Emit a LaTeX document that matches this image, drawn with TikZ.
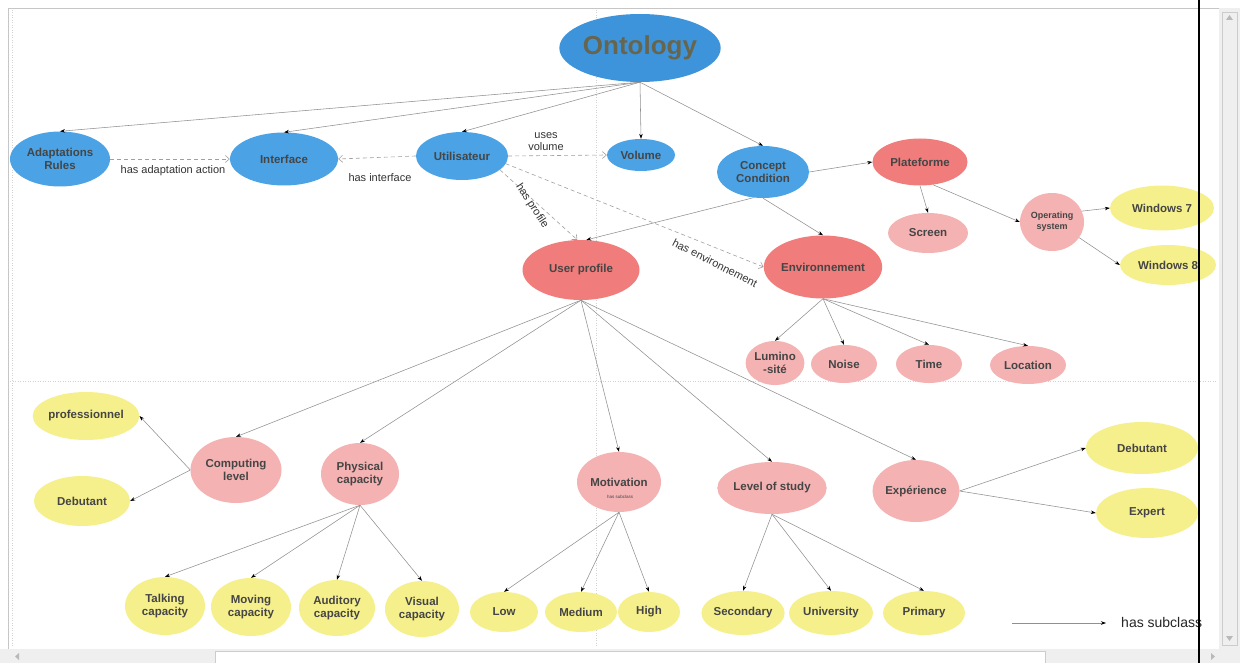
\documentclass[tikz,border=0pt]{standalone}
\usepackage{fontspec}
\setmainfont{Liberation Sans}
\usetikzlibrary{shapes.geometric,arrows.meta}

\definecolor{cblue}{HTML}{4BA3E6}
\definecolor{cblueD}{HTML}{3D94DA}
\definecolor{cred}{HTML}{F07C7C}
\definecolor{cpink}{HTML}{F4B2B2}
\definecolor{cyel}{HTML}{F6F08C}
\definecolor{txt}{HTML}{454545}
\definecolor{edge}{HTML}{909090}
\definecolor{relc}{HTML}{A0A0A0}
\definecolor{panel}{HTML}{EFEFEF}

\tikzset{
  ell/.style={ellipse, inner sep=0pt, align=center, text=txt,
              font=\fontsize{11.5}{13}\selectfont\bfseries},
  clsB/.style={ell, fill=cblue},
  clsR/.style={ell, fill=cred},
  clsP/.style={ell, fill=cpink},
  clsY/.style={ell, fill=cyel},
  sz/.style 2 args={minimum width=#1, minimum height=#2},
  sub/.style={draw=edge, line width=0.55pt,
              -{Stealth[length=5pt,width=3.5pt,black]}},
  rel/.style={draw=relc, line width=0.6pt, dash pattern=on 4pt off 3pt,
              -{Straight Barb[length=4pt,width=7pt]}},
  lbl/.style={text=black!80, font=\fontsize{11}{12.5}\selectfont, inner sep=1pt},
  grid/.style={draw=gray!35, line width=0.5pt, dotted}
}

\begin{document}
\begin{tikzpicture}[x=1pt, y=-1pt]
\useasboundingbox (0,0) rectangle (1241,663);
\fill[white] (0,0) rectangle (1241,663);

% window frame, grid guides and scrollbars
\draw[gray!45, line width=0.6pt] (8,8) rectangle (1219,649);
\draw[grid] (10,381) -- (1217,381);
\draw[grid] (596,10) -- (596,647);
\draw[grid] (12,10) -- (12,647);
\fill[panel] (1219,8) rectangle (1240,663);
\draw[gray!40] (1222,12) rectangle (1237,645);
\fill[gray!55] (1226,20) -- (1233,20) -- (1229.5,15) -- cycle;
\fill[gray!55] (1226,636) -- (1233,636) -- (1229.5,641) -- cycle;
\fill[panel] (0,649) rectangle (1219,663);
\draw[gray!40, fill=white] (215,651) rectangle (1045,663);
\fill[gray!55] (19,653) -- (19,660) -- (15,656.5) -- cycle;
\fill[gray!55] (1211,653) -- (1211,660) -- (1215,656.5) -- cycle;

% classes
\node[ell, fill=cblueD, sz={146pt}{68pt}, text=black!60!olive!60!gray,
      font=\fontsize{26}{28}\selectfont\bfseries] (onto) at (640,48) {Ontology};

\node[clsB, sz={100pt}{55pt}] (adapt) at (60,159) {Adaptations\\Rules};
\node[clsB, sz={108pt}{53pt}] (intf) at (284,159) {Interface};
\node[clsB, sz={92pt}{48pt}] (ut) at (462,156) {Utilisateur};
\node[clsB, sz={68pt}{32pt}] (vol) at (641,155) {Volume};
\node[clsB, sz={92pt}{52pt}] (cc) at (763,172) {Concept\\Condition};

\node[clsR, sz={95pt}{47pt}] (plat) at (920,162) {Plateforme};
\node[clsP, sz={80pt}{40pt}] (scr) at (928,233) {Screen};
\node[clsP, sz={64pt}{58pt}, font=\fontsize{9}{11}\selectfont\bfseries] (os) at (1052,222) {Operating\\system};
\node[clsY, sz={104pt}{45pt}] (w7) at (1162,208) {Windows 7};
\node[clsY, sz={96pt}{40pt}] (w8) at (1168,265) {Windows 8};

\node[clsR, sz={117pt}{60pt}] (up) at (581,270) {User profile};
\node[clsR, sz={114pt}{63pt}] (env) at (823,267) {Environnement};

\node[clsP, sz={58pt}{44pt}] (lum) at (775,363) {Lumino\\-sité};
\node[clsP, sz={66pt}{38pt}] (noise) at (844,364) {Noise};
\node[clsP, sz={66pt}{38pt}] (time) at (929,364) {Time};
\node[clsP, sz={76pt}{38pt}] (loc) at (1028,365) {Location};

\node[clsY, sz={104pt}{48pt}] (prof) at (86,416) {professionnel};
\node[clsY, sz={96pt}{50pt}] (debL) at (82,501) {Debutant};
\node[clsP, sz={91pt}{66pt}] (comp) at (236,470) {Computing\\level};
\node[clsP, sz={78pt}{62pt}] (phys) at (360,474) {Physical\\capacity};
\node[clsP, sz={84pt}{60pt}] (mot) at (619,482) {Motivation};
\node[text=txt, font=\fontsize{4.5}{5}\selectfont] (motsub) at (620,497) {has subclass};
\node[clsP, sz={100pt}{52pt}] (los) at (772,488) {Level of study};
\node[clsP, sz={86pt}{62pt}] (exp) at (916,491) {Expérience};
\node[clsY, sz={112pt}{52pt}] (debR) at (1142,448) {Debutant};
\node[clsY, sz={102pt}{50pt}] (expert) at (1147,513) {Expert};

\node[clsY, sz={80pt}{58pt}] (talk) at (165,606) {Talking\\capacity};
\node[clsY, sz={80pt}{58pt}] (move) at (251,607) {Moving\\capacity};
\node[clsY, sz={76pt}{56pt}] (aud) at (337,608) {Auditory\\capacity};
\node[clsY, sz={74pt}{56pt}] (vis) at (422,609) {Visual\\capacity};
\node[clsY, sz={68pt}{40pt}] (low) at (504,612) {Low};
\node[clsY, sz={72pt}{40pt}] (med) at (581,612) {Medium};
\node[clsY, sz={62pt}{40pt}] (high) at (649,612) {High};
\node[clsY, sz={74pt}{44pt}] (sec) at (743,613) {Secondary};
\node[clsY, sz={84pt}{44pt}] (uni) at (831,613) {University};
\node[clsY, sz={82pt}{44pt}] (prim) at (924,613) {Primary};

% subclass links
\draw[sub] (onto.south) -- (adapt.north);
\draw[sub] (onto.south) -- (intf.north);
\draw[sub] (onto.south) -- (ut.north);
\draw[sub] (onto.south) -- (vol.north);
\draw[sub] (onto.south) -- (cc.north);

\draw[sub] (cc.east) -- (plat.west);
\draw[sub] (cc.south) -- (env.north);
\draw[sub] (cc.250) -- (up.80);
\draw[sub] (plat.south) -- (scr.north);
\draw[sub] (plat.-60) -- (os.west);
\draw[sub] (os.20) -- (w7.west);
\draw[sub] (os.-30) -- (w8.west);

\draw[sub] (env.south) -- (lum.north);
\draw[sub] (env.south) -- (noise.north);
\draw[sub] (env.south) -- (time.north);
\draw[sub] (env.south) -- (loc.north);

\draw[sub] (up.south) -- (comp.north);
\draw[sub] (up.south) -- (phys.north);
\draw[sub] (up.south) -- (mot.north);
\draw[sub] (up.south) -- (los.north);
\draw[sub] (up.south) -- (exp.north);

\draw[sub] (comp.west) -- (prof.east);
\draw[sub] (comp.west) -- (debL.east);
\draw[sub] (phys.south) -- (talk.north);
\draw[sub] (phys.south) -- (move.north);
\draw[sub] (phys.south) -- (aud.north);
\draw[sub] (phys.south) -- (vis.north);
\draw[sub] (mot.south) -- (low.north);
\draw[sub] (mot.south) -- (med.north);
\draw[sub] (mot.south) -- (high.north);
\draw[sub] (los.south) -- (sec.north);
\draw[sub] (los.south) -- (uni.north);
\draw[sub] (los.south) -- (prim.north);
\draw[sub] (exp.east) -- (debR.west);
\draw[sub] (exp.east) -- (expert.west);

% object properties
\draw[rel] (adapt.east) -- (intf.west);
\draw[rel] (ut.west) -- (intf.east);
\draw[rel] (ut.east) -- (vol.west);
\draw[rel] (ut.-20) -- (up.97);
\draw[rel] (ut.-10) -- (env.west);

\node[lbl] (l1) at (173,171) {has adaptation action};
\node[lbl] (l2) at (380,178) {has interface};
\node[lbl, align=center, font=\fontsize{11}{12}\selectfont] (l3) at (546,142) {uses\\volume};
\node[lbl, rotate=-57] (l4) at (532,206) {has profile};
\node[lbl, rotate=-27] (l5) at (715,263) {has environnement};

% legend
\coordinate (lgA) at (1012,623);
\coordinate (lgB) at (1106,623);
\draw[sub] (lgA) -- (lgB);
\node[anchor=west, text=black!85, font=\fontsize{14}{16}\selectfont, inner sep=0pt] (lgT) at (1121,622) {has subclass};

% screen marker line
\draw[black, line width=1.6pt] (1199,0) -- (1199,663);
\end{tikzpicture}
\end{document}
